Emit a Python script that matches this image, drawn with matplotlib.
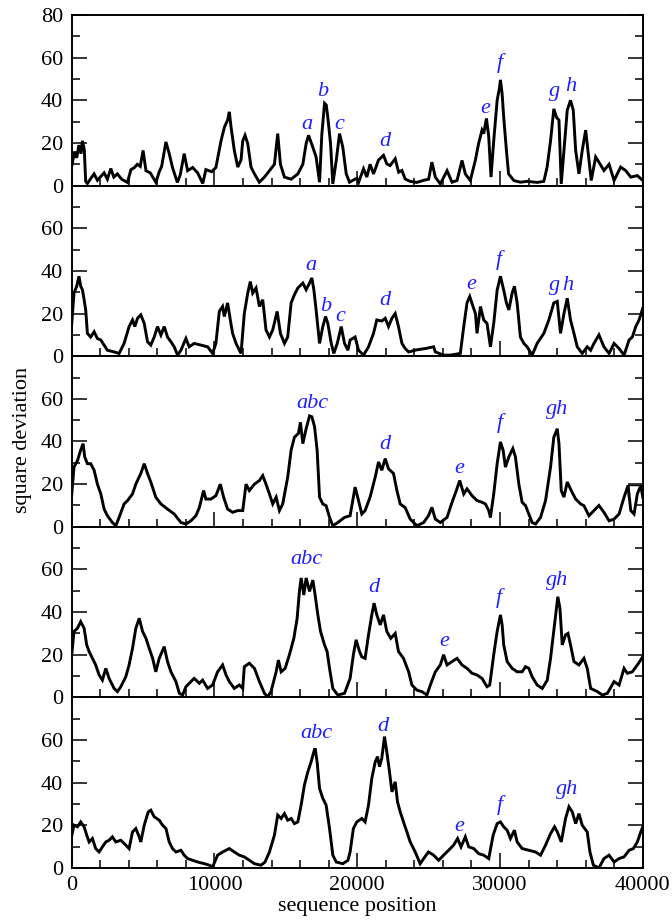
import matplotlib
matplotlib.use("Agg")
import matplotlib.pyplot as plt
from matplotlib.ticker import MultipleLocator, FixedLocator

plt.rcParams["font.family"] = ["Liberation Serif", "DejaVu Serif"]
plt.rcParams["font.size"] = 16

# ---- square deviation along the sequence, five window sizes (top to bottom) ----
pos1 = [0, 200, 350, 500, 650, 750, 880, 980, 1100, 1300, 1570, 1800, 2000, 2270, 2500,
        2740, 2950, 3200, 3500, 3900, 4150, 4400, 4600, 4800, 5000, 5200, 5500, 5900, 6130,
        6300, 6600, 6830, 7060, 7400, 7600, 7880, 8120, 8470, 8820, 9180, 9400, 9800, 10100,
        10460, 10700, 10920, 11040, 11160, 11390, 11630, 11860, 11980, 12140, 12330, 12560,
        12800, 13140, 13500, 14200, 14430, 14620, 14900, 15370, 15840, 16190, 16420, 16590,
        16890, 17120, 17360, 17520, 17710, 17830, 17940, 18130, 18290, 18530, 18760, 18990,
        19230, 19460,
        19970, 20100, 20440, 20670, 20900, 21140, 21490, 21840, 22070, 22300, 22660, 22900,
        23130, 23360, 23700, 24180, 24650, 25000, 25230, 25470, 25820, 26290, 26640, 26990,
        27340, 27570, 27920, 28270, 28500, 28740, 28860, 29050, 29210, 29370, 29560, 29800,
        29960, 30030, 30150, 30260, 30450, 30600, 30970, 31430, 31900, 32600, 33070, 33300,
        33540, 33770, 33960, 34130, 34290, 34480, 34710, 34940, 35130, 35300, 35530, 35760,
        36000, 36160, 36390, 36700, 36930, 37280, 37640, 37990, 38450, 38800, 39160, 39620,
        40000]
dev1 = [9, 16, 13, 19, 15, 21, 17, 2, 1, 3, 5.5, 2.5, 4, 6, 3,
        8, 4, 5.5, 3, 1.5, 7.5, 8.5, 10, 9, 16.5, 7, 6, 1.5, 6.5,
        9, 20.5, 15, 8.5, 1.5, 5, 15, 7, 8.5, 6, 1, 7.5, 6.5, 8.5,
        21, 27.5, 30.7, 34.6, 27.5, 16.5, 8.7, 12, 21, 23.6, 19.7, 8.7,
        5.5, 1.6, 4, 10, 24.4, 10, 4, 3, 5.5, 10, 19.7, 23.6,
        18, 13.4, 1.6, 24, 38.6, 37.8, 32, 19.7, 0.8, 11.8, 24.4, 18,
        5.5, 1.6,
        3.5, 1.6, 7.9, 4, 10, 5.5, 12, 14.2, 10.2, 9.4, 12.6, 6.3,
        7.1, 3.1, 2, 1.5, 2.5, 3, 11, 4, 0.8, 7, 1.6, 2.4,
        11.8, 5.5, 2.4, 11.8, 19.7, 26, 24.4, 31.5, 23, 4, 21, 40,
        45.7, 49.6, 43, 32, 16.5, 5.5, 2.4, 1.6, 2, 1.5, 2, 8.7,
        21, 36, 32, 30.7, 0.8, 16.5, 35.4, 40, 35.4, 16.5, 5.5, 16.5,
        26, 16.5, 2.4, 13.4, 11, 7.1, 10, 2.4, 8.7, 7.1, 4, 4.7,
        2.4]

pos2 = [0, 160, 350, 510, 630, 750, 870, 980, 1100, 1330, 1570, 1800, 2040, 2270, 2500,
        2970, 3320, 3670, 4020, 4260, 4420, 4610, 4840, 5080, 5310, 5540, 5780, 6010, 6250,
        6480, 6710, 6950, 7180, 7420, 7650, 8000, 8230, 8580, 9050, 9520, 9870, 10100, 10340,
        10570, 10690, 10920, 11110, 11270, 11510, 11860, 12090, 12330, 12510, 12680, 12910,
        13150, 13380, 13610, 13850, 14080, 14390, 14620, 14900, 15130, 15370, 15600, 15840,
        16190, 16420, 16660, 16820, 16960, 17120, 17360, 17590, 17780, 17940, 18180, 18360,
        18600, 18880, 19110, 19350,
        19500, 19850, 20090, 20440, 20790, 21140, 21370, 21720, 21960, 22190, 22430, 22660,
        22890, 23130, 23360, 23600, 24180, 24770, 25350, 25470, 26050, 26520, 27220, 27460,
        27690, 27880, 28110, 28280, 28390, 28630, 28860, 29090, 29330, 29560, 29800, 30030,
        30260, 30450, 30620, 30850, 31010, 31200, 31430, 31670, 31900, 32250, 32600, 33070,
        33420, 33770, 34010, 34240, 34480, 34710, 34940, 35180, 35410, 35760, 36110, 36350,
        36580, 36930, 37280, 37640, 37990, 38340, 38690, 39040, 39270, 39510, 39740, 40000]
dev2 = [15, 29.6, 32.8, 37.5, 32.8, 31.2, 26.5, 21.7, 10.7, 9, 11.5, 8.3, 7.6, 5.2, 2.8,
        2, 1.3, 6, 13.9, 17, 13.9, 17.8, 19.4, 15.4, 6.8, 5.2, 9, 13.9, 9.9,
        13.9, 9, 6.8, 4.4, 0.5, 2.8, 8.3, 4.4, 6, 5.2, 4.4, 1.3, 6, 21,
        23.3, 18.6, 25, 17, 10.7, 6, 1.3, 20, 29.6, 35, 29.6, 32,
        23.3, 26.5, 12.3, 9, 12.3, 21, 10.7, 6, 9, 25, 28.8, 32,
        34.3, 31.2, 34.3, 36.7, 31.2, 21.7, 6, 13.9, 18.6, 15.4, 6, 1.3,
        6, 13.9, 6, 2.8,
        7.6, 9, 2.8, 0.5, 4.4, 10.7, 17, 16.5, 17.8, 13.9, 17.8, 20,
        13.9, 6, 3.6, 2, 3, 3.6, 4.4, 2, 0.5, 0.5, 1.3, 13.9,
        25, 28, 23.3, 20, 10.7, 23.3, 17, 15.4, 4.4, 15.4, 31, 37.5,
        31, 25, 21.7, 29.6, 32.8, 25, 9, 6, 4.4, 0.5, 6, 10.7,
        17, 25, 25.7, 10.7, 20, 27.2, 17, 10.7, 4.4, 1.3, 4.4, 2.8,
        6, 10, 4.4, 1.3, 6, 3.6, 0.5, 7.6, 9, 13.9, 17, 22.5]

pos3 = [0, 160, 400, 630, 800, 910, 1100, 1330, 1570, 1800, 2040, 2270, 2500, 2850, 3090,
        3320, 3670, 3910, 4260, 4490, 4840, 5080, 5310, 5540, 5890, 6250, 6710, 7180, 7650,
        8000, 8350, 8700, 8940, 9240, 9400, 9750, 10100, 10410, 10640, 10920, 11270, 11630,
        11980, 12210, 12440, 12800, 13150, 13380, 13610, 13850, 14080, 14320, 14550, 14780,
        15130, 15370, 15600, 15880, 16020, 16190, 16420, 16660, 16820, 17010, 17190, 17360,
        17590, 17820, 18060, 18290, 18640, 19110,
        19500, 19850, 20090, 20320, 20550, 20900, 21260, 21490, 21720, 21960, 22190, 22540,
        22780, 23010, 23360, 23710, 24180, 24650, 24990, 25230, 25470, 25820, 26290, 26640,
        26940, 27180, 27460, 27690, 28040, 28390, 28740, 28980, 29210, 29330, 29560, 29800,
        30030, 30220, 30380, 30620, 30900, 31080, 31320, 31550, 31790, 32020, 32250, 32490,
        32840, 33190, 33540, 33770, 34010, 34130, 34290, 34480, 34710, 34990, 35300, 35650,
        35880, 36230, 36580, 36930, 37280, 37640, 37990, 38340, 38690, 38970, 39160, 39390,
        39620, 39860, 40000]
dev3 = [15, 28, 31, 36, 39, 32.8, 29.6, 29.6, 26.5, 20, 15.4, 8.3, 5.2, 2, 0.5,
        4.4, 10.7, 12.3, 15.4, 20, 25, 29.6, 25, 21, 13.9, 10.7, 8.3, 6, 2,
        1.3, 2.8, 5.2, 9, 17, 13, 13, 14.6, 20, 13.9, 8.3, 6.8, 7.6,
        7.6, 20, 17, 20, 21.7, 24, 20, 15.4, 10.7, 13.9, 7.6, 10.7,
        23.3, 36, 42, 43.8, 49, 39, 46, 52, 51.6, 47, 36, 13.9,
        10.7, 9.9, 4.4, 0.5, 2, 4.4,
        5.2, 18.6, 12.3, 6, 7.6, 13.9, 23.3, 30.4, 26.5, 32, 27.2, 25,
        17, 10.7, 9, 3.6, 0.5, 2, 5.2, 9.1, 3.6, 2, 4.4, 11.5,
        17, 21.7, 15.4, 17.8, 14.6, 12.3, 11.5, 10.7, 7.6, 4.4, 15.4, 29.6,
        39.8, 35.9, 28, 32.8, 36.7, 32.8, 20, 11.5, 9.9, 6, 2, 1.3,
        4.4, 12.3, 28, 42, 46, 39, 17, 13.9, 21, 17, 13, 10.7,
        9.9, 5.2, 7.6, 10, 6.8, 2.8, 3.6, 6, 13.9, 19.4, 7.6, 6,
        15.4, 19.4, 13.9]
# bracket drawn at the right end of the third panel
bracket3_x = [38970, 38970, 40000]
bracket3_y = [13.9, 19.7, 19.7]

pos4 = [0, 160, 400, 630, 870, 1050, 1220, 1450, 1680, 1920, 2150, 2390, 2620, 2970, 3200,
        3440, 3790, 4020, 4260, 4490, 4730, 4960, 5200, 5430, 5670, 5890, 6130, 6480, 6710,
        6950, 7300, 7540, 7770, 8000, 8350, 8580, 8940, 9170, 9520, 9870, 10220, 10570, 10810,
        11040, 11390, 11740, 11980, 12090, 12440, 12800, 13150, 13500, 13730, 13960, 14320,
        14480, 14670, 14950, 15250, 15560, 15790, 15950, 16070, 16260, 16420, 16660, 16890,
        17050, 17240, 17430, 17710, 17890, 18060, 18290, 18640, 19110,
        19500, 19730, 19920, 20160, 20320, 20550, 20790, 21020, 21180, 21370, 21610, 21840,
        22070, 22350, 22660, 22890, 23240, 23600, 23830, 24180, 24530, 24880, 25120, 25470,
        25820, 26050, 26290, 26640, 26990, 27340, 27690, 28040, 28390, 28740, 29090, 29280,
        29560, 29800, 30030, 30150, 30260, 30500, 30850, 31200, 31550, 31790, 32020, 32250,
        32600, 32960, 33310, 33540, 33820, 34050, 34200, 34360, 34590, 34760, 34940, 35180,
        35530, 35880, 36110, 36350, 36820, 37170, 37520, 37990, 38340, 38690, 38920, 39270,
        39620, 40000]
dev4 = [19.9, 30.9, 32.4, 35.5, 32.4, 24.6, 21.5, 18.3, 15.2, 10.5, 8.1, 13.6, 8.9, 4.2, 2.7,
        5, 9.7, 15.2, 23, 32.4, 37.1, 31, 27.7, 23, 18.3, 12, 18.3, 23.8, 16.8,
        12, 7.4, 1.9, 1.1, 5, 7.4, 8.9, 6.6, 8.1, 4.2, 5.8, 12, 15.2, 10.5,
        7.4, 4.2, 5.8, 4.2, 14.4, 16, 13.6, 7.4, 1.9, 0.3, 2.7, 12,
        17.5, 12, 13.6, 20, 27.7, 37.1, 49.7, 56, 48, 56, 49.7, 55,
        48, 38.7, 30.9, 24.6, 21.5, 13.6, 4.2, 1.1, 1.9,
        8.9, 20, 27, 21.5, 19, 18.3, 29.3, 38.7, 44.2, 38.7, 34, 38.7,
        30.9, 27.7, 30, 21.5, 18.3, 12, 5.8, 3.4, 2.7, 1.1, 5.8, 12,
        15.2, 20, 15.2, 16.8, 18.3, 15.2, 13.6, 11.3, 10.5, 8.9, 5, 5.8,
        20, 30.9, 38.7, 34, 24.6, 16.8, 13.6, 12, 12, 14.4, 13.6, 9.7,
        5.8, 4.2, 8.1, 18.3, 34, 47.2, 41.7, 24.6, 29.3, 30, 24.6, 16.8,
        15.2, 18.3, 13.6, 4.2, 2.7, 1.1, 1.9, 7.4, 5.8, 13.6, 11.3, 12,
        15.2, 19]

pos5 = [0, 160, 400, 630, 870, 1050, 1220, 1450, 1680, 1920, 2150, 2390, 2620, 2850, 3090,
        3440, 3790, 4020, 4260, 4490, 4730, 4840, 5080, 5360, 5540, 5780, 6130, 6360, 6600,
        6830, 7060, 7300, 7650, 7880, 8120, 8470, 8820, 9290, 9640, 9870, 10220, 10570, 11040,
        11390, 11740, 12090, 12440, 12800, 13260, 13540, 13850, 14200, 14430, 14670, 14900,
        15130, 15370, 15600, 15840, 16070, 16300, 16540, 16770, 16960, 17050, 17190, 17360,
        17590, 17820, 18060, 18290, 18530, 18990, 19350,
        19500, 19730, 19970, 20320, 20550, 20790, 21020, 21260, 21420, 21560, 21720, 21910,
        22070, 22260, 22430, 22660, 22820, 23010, 23240, 23480, 23710, 24060, 24410, 24650,
        24990, 25350, 25700, 26050, 26400, 26750, 27030, 27270, 27570, 27810, 28160, 28510,
        28860, 29210, 29520, 29800, 30030, 30260, 30500, 30730, 31010, 31200, 31550, 32020,
        32490, 32840, 33190, 33540, 33820, 34010, 34290, 34590, 34830, 35060, 35300, 35530,
        35760, 36110, 36300, 36540, 36930, 37280, 37640, 37990, 38340, 38690, 39040, 39340,
        39620, 39860, 40000]
dev5 = [15, 20.1, 19.3, 21.6, 19.3, 15.4, 12.2, 13.8, 9.1, 7.5, 9.9, 12.2, 13, 14.6, 12.2,
        13, 10.7, 9.1, 16.9, 18.5, 14.6, 12.2, 20.1, 26.3, 27.1, 24, 22.4, 20.1, 18.5,
        12.2, 9.1, 7.5, 8.3, 6, 4.4, 3.6, 2.8, 2, 1.3, 0.5, 6, 7.5, 9.1,
        7.5, 6, 5.2, 3.6, 2, 1.3, 2.8, 7.5, 15.4, 24.8, 23.2, 25.5,
        22.4, 23.2, 20.8, 21.6, 29.5, 38.9, 45.1, 49.8, 54.5, 56.1, 49.8, 37.3,
        32.6, 29.5, 18.5, 6, 2.8, 2, 3.6,
        7.5, 18.5, 21.6, 23.2, 21.6, 29.5, 42, 49.8, 52.2, 47.5, 51.4, 61.6,
        54.5, 45.1, 35.7, 40.4, 31, 26.3, 21.6, 16.9, 12.2, 7.5, 2, 4.4,
        7.5, 6, 3.6, 6, 8.3, 10.7, 13.8, 9.9, 14.6, 9.9, 9.1, 6.7,
        6, 4.4, 15.4, 20.8, 21.6, 19.3, 17.7, 13.8, 17.7, 12.2, 9.1, 8.3,
        7.5, 6, 10.7, 16.1, 19.3, 17, 12.2, 23.2, 28.7, 26.3, 20.8, 25.5,
        20, 16.9, 7.5, 1.3, 0, 4.4, 6, 2.8, 4.4, 5.2, 8.3, 9.1,
        12.2, 16.9, 19.3]

# peak annotations: (text, position, height of text baseline)
labels1 = [("a", 16480, 26.5), ("b", 17600, 41.8), ("c", 18720, 26.5), ("d", 21940, 18.7),
           ("e", 29000, 34), ("f", 30000, 55), ("g", 33850, 41.8), ("h", 34970, 44.6)]
labels2 = [("a", 16740, 40.2), ("b", 17790, 21), ("c", 18840, 16.5), ("d", 21940, 23.9),
           ("e", 28000, 31.3), ("f", 29950, 42.6), ("g", 33850, 31.2), ("h", 34780, 31.2)]
labels3 = [("abc", 16830, 55.5), ("d", 21940, 36.6), ("e", 27150, 25.4), ("f", 30000, 46.2),
           ("gh", 34000, 52.7)]
labels4 = [("abc", 16460, 62.4), ("d", 21170, 49.4), ("e", 26080, 24.1), ("f", 29930, 44.4),
           ("gh", 33970, 52.9)]
labels5 = [("abc", 17110, 60.8), ("d", 21820, 64.4), ("e", 27150, 17.3), ("f", 30000, 27),
           ("gh", 34710, 34.8)]

panels = [(pos1, dev1, labels1), (pos2, dev2, labels2), (pos3, dev3, labels3),
          (pos4, dev4, labels4), (pos5, dev5, labels5)]

fig = plt.figure(figsize=(6.72, 9.22), dpi=100)
axes = fig.subplots(5, 1, sharex=True, gridspec_kw=dict(hspace=0))
fig.subplots_adjust(left=0.1067, right=0.9565, bottom=0.0586, top=0.9837)

label_blue = "#1f1fff"
for i, (ax, (pos, dev, labs)) in enumerate(zip(axes, panels)):
    ax.plot(pos, dev, color="black", lw=2.1, solid_joinstyle="miter")
    if i == 2:
        ax.plot(bracket3_x, bracket3_y, color="black", lw=1.0)
    for txt, x, y in labs:
        ax.text(x, y, txt, color=label_blue, style="italic", fontsize=16,
                ha="center", va="baseline")
    ax.set_xlim(0, 40000)
    ax.set_ylim(0, 80)
    ax.yaxis.set_major_locator(FixedLocator([0, 20, 40, 60, 80]))
    ax.yaxis.set_minor_locator(MultipleLocator(10))
    ax.set_yticklabels(["0", "20", "40", "60", "80" if i == 0 else ""])
    ax.xaxis.set_major_locator(MultipleLocator(10000))
    ax.xaxis.set_minor_locator(MultipleLocator(2000))
    ax.tick_params(which="both", direction="in", left=True, right=True, top=False,
                   bottom=True, width=1.1, labelsize=16)
    ax.tick_params(which="major", length=11, pad=6)
    ax.tick_params(which="minor", length=5.5)
    for sp in ax.spines.values():
        sp.set_linewidth(1.4)

axes[-1].set_xlabel("sequence position", fontsize=16, labelpad=1)
fig.text(0.033, 0.523, "square deviation", rotation=90, ha="center", va="center",
         fontsize=16)

fig.savefig("out.png", dpi=100)
